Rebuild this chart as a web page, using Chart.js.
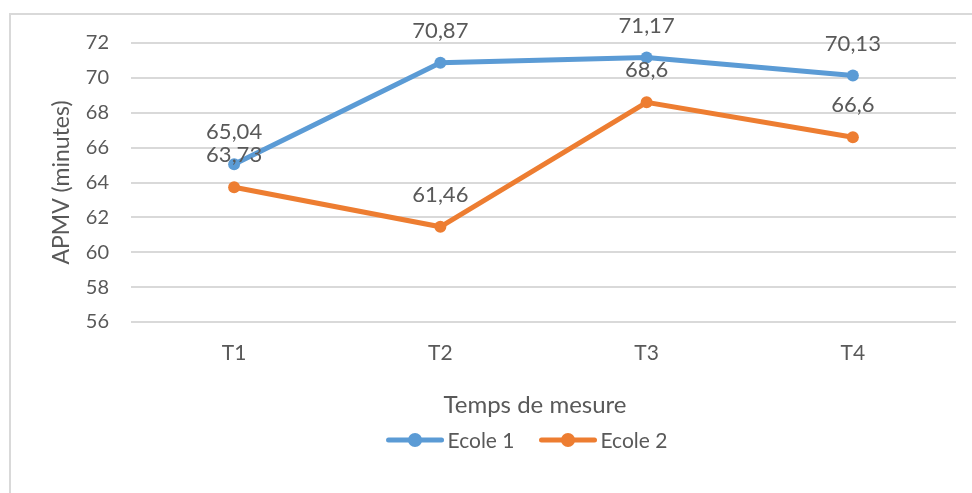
<!DOCTYPE html>
<html>
<head>
<meta charset="utf-8">
<script src="https://cdn.jsdelivr.net/npm/chart.js@4/dist/chart.umd.min.js"></script>
<style>
  html, body { margin: 0; padding: 0; background: #fff; overflow: hidden; }
  #wrap { position: relative; width: 972px; height: 493px; }
  #frame { position: absolute; left: 9px; top: 13px; width: 2000px; height: 1000px;
           border-left: 2px solid #d9d9d9; border-top: 2px solid #d9d9d9; pointer-events: none; }
</style>
</head>
<body>
<div id="wrap">
  <canvas id="myChart" width="972" height="493"></canvas>
  <div id="frame"></div>
</div>
<script>
var categories = ['T1', 'T2', 'T3', 'T4'];
var ecole1 = [65.04, 70.87, 71.17, 70.13];
var ecole2 = [63.73, 61.46, 68.6, 66.6];
var seriesNames = ['Ecole 1', 'Ecole 2'];
var yMin = 56, yMax = 72, yStep = 2;
var xTitle = 'Temps de mesure';
var yTitle = 'APMV (minutes)';

var blue = '#5b9bd5';
var orange = '#ed7d31';
var textColor = '#595959';
var fontFamily = 'Lato, "Open Sans", sans-serif';

function frNum(v) {
    return String(v).replace('.', ',');
}

// labels above points + x title + legend (Excel style)
var extras = {
    id: 'extras',
    afterDatasetsDraw: function(chart) {
        var ctx = chart.ctx;
        ctx.save();
        ctx.font = '22px ' + fontFamily;
        ctx.fillStyle = textColor;
        ctx.textAlign = 'center';
        ctx.textBaseline = 'middle';
        chart.data.datasets.forEach(function(ds, i) {
            var meta = chart.getDatasetMeta(i);
            meta.data.forEach(function(pt, j) {
                ctx.fillText(frNum(ds.data[j]), pt.x, pt.y - 32);
            });
        });
        ctx.restore();
    },
    afterDraw: function(chart) {
        var ctx = chart.ctx;
        ctx.save();
        ctx.fillStyle = textColor;
        ctx.textBaseline = 'middle';
        ctx.textAlign = 'center';
        ctx.font = '24px ' + fontFamily;
        ctx.fillText(xTitle, 535, 405);

        // legend
        ctx.font = '21px ' + fontFamily;
        var markW = 57, gap = 4, between = 25;
        var ds = chart.data.datasets;
        var total = 0;
        ds.forEach(function(d, i) {
            total += markW + gap + ctx.measureText(d.label).width;
            if (i < ds.length - 1) total += between;
        });
        var x = 527 - total / 2;
        var y = 440;
        ctx.textAlign = 'left';
        ds.forEach(function(d) {
            ctx.strokeStyle = d.borderColor;
            ctx.lineWidth = 5;
            ctx.lineCap = 'round';
            ctx.beginPath();
            ctx.moveTo(x + 2, y);
            ctx.lineTo(x + markW - 2, y);
            ctx.stroke();
            ctx.fillStyle = d.borderColor;
            ctx.beginPath();
            ctx.arc(x + markW / 2, y, 7, 0, Math.PI * 2);
            ctx.fill();
            ctx.fillStyle = textColor;
            ctx.fillText(d.label, x + markW + gap, y + 1);
            x += markW + gap + ctx.measureText(d.label).width + between;
        });
        ctx.restore();
    }
};

var ctx = document.getElementById('myChart').getContext('2d');
var chart = new Chart(ctx, {
    type: 'line',
    data: {
        labels: categories,
        datasets: [{
            label: seriesNames[0],
            data: ecole1,
            borderColor: blue,
            backgroundColor: blue,
            borderWidth: 5,
            pointRadius: 6,
            pointBorderWidth: 0,
            pointBackgroundColor: blue,
            tension: 0
        }, {
            label: seriesNames[1],
            data: ecole2,
            borderColor: orange,
            backgroundColor: orange,
            borderWidth: 5,
            pointRadius: 6,
            pointBorderWidth: 0,
            pointBackgroundColor: orange,
            tension: 0
        }]
    },
    options: {
        responsive: false,
        animation: false,
        layout: { padding: { top: 43, right: 16, bottom: 0, left: 0 } },
        plugins: {
            legend: { display: false },
            tooltip: { enabled: false }
        },
        scales: {
            x: {
                offset: true,
                grid: { display: false, drawTicks: false },
                border: { display: false },
                ticks: { color: textColor, font: { family: fontFamily, size: 21 }, padding: 19 },
                afterFit: function(s) { s.height = 171; }
            },
            y: {
                min: yMin,
                max: yMax,
                ticks: { stepSize: yStep, color: textColor, font: { family: fontFamily, size: 20 }, padding: 22 },
                grid: { color: '#d9d9d9', lineWidth: 2, drawTicks: false },
                border: { display: false },
                title: {
                    display: true,
                    text: yTitle,
                    color: textColor,
                    font: { family: fontFamily, size: 23 },
                    padding: { top: 48, bottom: 0 }
                },
                afterFit: function(s) { s.width = 131; }
            }
        }
    },
    plugins: [extras]
});
</script>
</body>
</html>
